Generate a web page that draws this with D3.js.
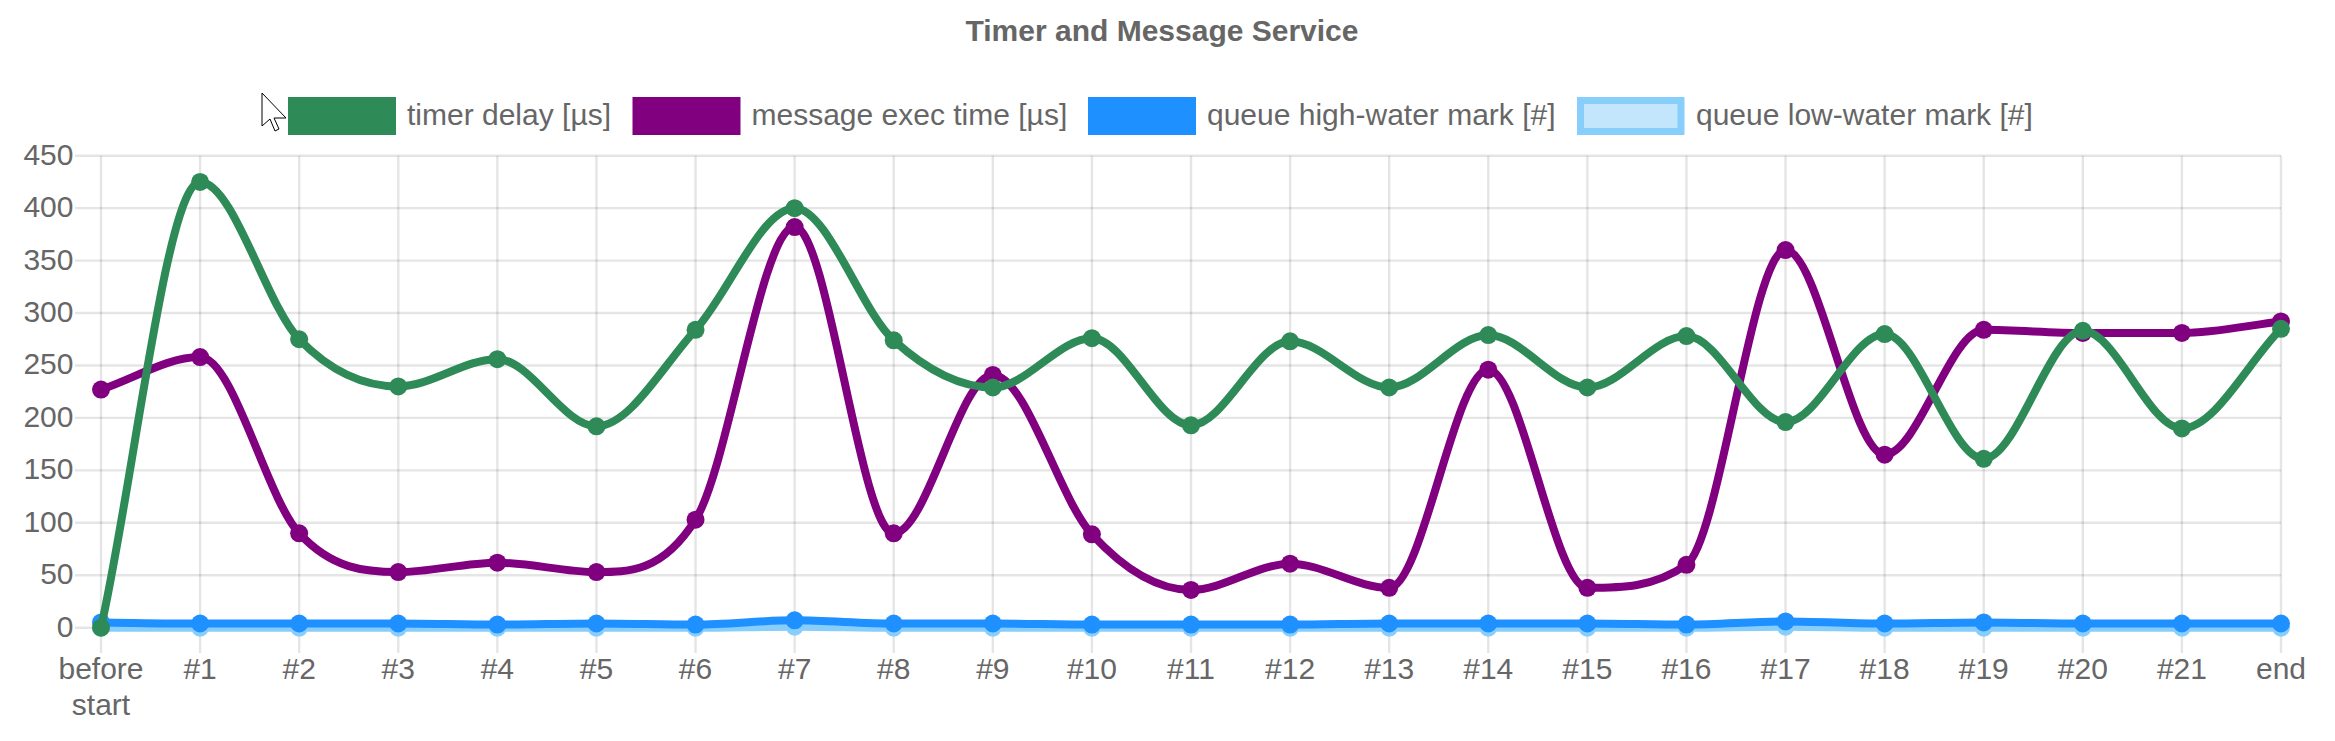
<!DOCTYPE html>
<html><head><meta charset="utf-8">
<script src="https://cdn.jsdelivr.net/npm/d3@7"></script>
<style>html,body{margin:0;padding:0;background:#fff}svg{display:block}text{font-family:"Liberation Sans",Arial,sans-serif;fill:#666}</style>
</head><body><svg id="c" width="2335" height="741"></svg>
<script>
const categories=["before start","#1","#2","#3","#4","#5","#6","#7","#8","#9","#10","#11","#12","#13","#14","#15","#16","#17","#18","#19","#20","#21","end"];
const timerDelay=[0,425,275,230,256,192,284,400,274,229,276,193,273,229,279,229,278,196,280,161,283,190,285];
const messageExec=[227,258,90,53,62,53,103,382,90,241,89,36,61,38,246,38,60,360,165,284,281,281,292];
const queueHigh=[5,4,4,4,3,4,3,7,4,4,3,3,3,4,4,4,3,6,4,5,4,4,4];
const queueLow=[0,0,0,0,0,0,0,1,0,0,0,0,0,0,0,0,0,1,0,0,0,0,0];
const yTicks=[0,50,100,150,200,250,300,350,400,450];
const seriesNames=["timer delay [µs]","message exec time [µs]","queue high-water mark [#]","queue low-water mark [#]"];
const seriesColors=["#2e8b57","#800080","#1e90ff","#87cefa"];
const seriesValues=[timerDelay,messageExec,queueHigh,queueLow];
const title="Timer and Message Service";

// Monotone cubic (Fritsch-Carlson) as a d3 curve factory
function curveFC(context){
 let pts=[];
 return {
  areaStart(){},areaEnd(){},
  lineStart(){pts=[];},
  point(a,b){pts.push([+a,+b]);},
  lineEnd(){
   const n=pts.length,del=[],m=new Array(n).fill(0);
   for(let i=0;i<n-1;i++)del[i]=(pts[i+1][1]-pts[i][1])/(pts[i+1][0]-pts[i][0]);
   m[0]=del[0];m[n-1]=del[n-2];
   for(let i=1;i<n-1;i++)m[i]=del[i-1]*del[i]<=0?0:(del[i-1]+del[i])/2;
   for(let i=0;i<n-1;i++){
    if(del[i]===0){m[i]=m[i+1]=0;continue;}
    const a=m[i]/del[i],b=m[i+1]/del[i],s=a*a+b*b;
    if(s>9){const t=3/Math.sqrt(s);m[i]=a*t*del[i];m[i+1]=b*t*del[i];}
   }
   context.moveTo(pts[0][0],pts[0][1]);
   for(let i=0;i<n-1;i++){
    const h=(pts[i+1][0]-pts[i][0])/3;
    context.bezierCurveTo(pts[i][0]+h,pts[i][1]+m[i]*h,pts[i+1][0]-h,pts[i+1][1]-m[i+1]*h,pts[i+1][0],pts[i+1][1]);
   }
  }
 };
}

const svg=d3.select("#c");
const x=d3.scalePoint().domain(d3.range(categories.length)).range([101,2281]);
const y=d3.scaleLinear().domain([0,450]).range([627.7,155.7]);
const grid="rgba(0,0,0,0.1)";
const g=svg.append("g").attr("stroke",grid).attr("stroke-width",2.4);
g.selectAll("line.h").data(yTicks).join("line").attr("class","h").attr("x1",75).attr("x2",2281).attr("y1",d=>y(d)).attr("y2",d=>y(d));
g.selectAll("line.v").data(categories.map((_,i)=>i)).join("line").attr("class","v").attr("x1",d=>x(d)).attr("x2",d=>x(d)).attr("y1",155.7).attr("y2",653);
svg.append("g").selectAll("text").data(yTicks).join("text").attr("x",73.5).attr("y",d=>y(d)-1.5).attr("dy","0.35em").attr("text-anchor","end").attr("font-size",30).text(d=>d);
const xl=svg.append("g").selectAll("text").data(categories).join("text").attr("text-anchor","middle").attr("font-size",30).attr("transform",(d,i)=>`translate(${x(i)},679)`);
xl.each(function(d){const p=d.split(" ");d3.select(this).selectAll("tspan").data(p).join("tspan").attr("x",0).attr("y",(_,i)=>i*36).text(t=>t)});
svg.append("text").attr("x",1162).attr("y",41).attr("text-anchor","middle").attr("font-size",30).attr("font-weight","bold").text(title);
// legend
const legendX=[288,632.5,1088,1577];
seriesNames.forEach((n,i)=>{
 const c=seriesColors[i];
 if(i==3){svg.append("rect").attr("x",legendX[i]+3.5).attr("y",100.5).attr("width",100.5).attr("height",31).attr("fill","rgba(135,206,250,0.5)").attr("stroke",c).attr("stroke-width",7);}
 else svg.append("rect").attr("x",legendX[i]).attr("y",97).attr("width",108).attr("height",38).attr("fill",c);
 svg.append("text").attr("x",legendX[i]+119).attr("y",125).attr("font-size",30).text(n);
});
// series
const line=d3.line().x((d,i)=>x(i)).y(d=>y(d)).curve(curveFC);
[3,2,1,0].forEach(i=>{
 const s=svg.append("g");
 s.append("path").attr("d",line(seriesValues[i])).attr("fill","none").attr("stroke",seriesColors[i]).attr("stroke-width",8);
 s.selectAll("circle").data(seriesValues[i]).join("circle").attr("cx",(d,k)=>x(k)).attr("cy",d=>y(d)).attr("r",9).attr("fill",seriesColors[i]);
});
// cursor
svg.append("path").attr("d","M262 93 L262 126 L270 119 L275 131 L279 129 L274 118 L286 118 Z").attr("fill","#fff").attr("stroke","#000").attr("stroke-width",1);
</script></body></html>
